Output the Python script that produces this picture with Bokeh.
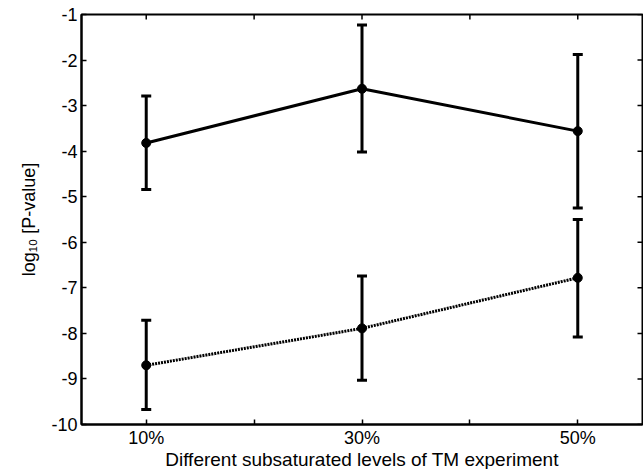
import math
from bokeh.plotting import figure
from bokeh.models import (ColumnDataSource, Whisker, TeeHead, FixedTicker, Range1d)
from bokeh.embed import file_html
from bokeh.resources import INLINE

categories = ["10%", "30%", "50%"]
solid_mean = [-3.82, -2.63, -3.56]
solid_upper = [-2.79, -1.23, -1.88]
solid_lower = [-4.84, -4.02, -5.25]
dotted_mean = [-8.70, -7.89, -6.78]
dotted_upper = [-7.71, -6.74, -5.50]
dotted_lower = [-9.67, -9.03, -8.08]
y_ticks = list(range(-10, 0))

xs = [i + 1 for i in range(len(categories))]
x_ticks = [1, 1.5, 2, 2.5, 3]
x_overrides = {x: c for x, c in zip(xs, categories)}
x_overrides.update({1.5: "", 2.5: ""})
y_overrides = {t: str(t) for t in y_ticks}

FONT = "Liberation Sans"
x0, x1, y0, y1 = 0.7, 3.3, -10, -1

p = figure(frame_width=561, frame_height=410, output_backend="svg", toolbar_location=None,
           x_range=Range1d(x0, x1), y_range=Range1d(y0, y1),
           min_border_left=81, min_border_top=14, min_border_right=1, min_border_bottom=0)
p.background_fill_color = "white"
p.border_fill_color = "white"
p.outline_line_color = "black"
p.outline_line_width = 2
p.xgrid.visible = False
p.ygrid.visible = False

for ax in (p.xaxis[0], p.yaxis[0]):
    ax.axis_line_color = "black"
    ax.axis_line_width = 2
    ax.major_tick_in = 5
    ax.major_tick_out = 0
    ax.major_tick_line_width = 1.5
    ax.minor_tick_line_color = None
    ax.major_label_text_font = FONT
    ax.major_label_text_font_size = "18px"
    ax.major_label_text_color = "black"
    ax.axis_label_text_font = FONT
    ax.axis_label_text_font_style = "normal"
    ax.axis_label_text_color = "black"

p.xaxis.ticker = FixedTicker(ticks=x_ticks)
p.xaxis.major_label_overrides = x_overrides
p.yaxis.ticker = FixedTicker(ticks=y_ticks)
p.yaxis.major_label_overrides = y_overrides
p.xaxis.major_label_standoff = 3
p.yaxis.major_label_standoff = 4
p.xaxis.axis_label = "Different subsaturated levels of TM experiment"
p.xaxis.axis_label_text_font_size = "19px"
p.xaxis.axis_label_standoff = -2
p.yaxis.axis_label = "log\u2081\u2080 [P-value]"
p.yaxis.axis_label_text_font_size = "18px"
p.yaxis.axis_label_standoff = 9

# inward ticks on the top and right edges of the box
p.ray(x=[x1] * len(y_ticks), y=y_ticks, length=5, length_units="screen", angle=math.pi,
      line_color="black", line_width=1.5)
p.ray(x=x_ticks, y=[y1] * len(x_ticks), length=5, length_units="screen", angle=-math.pi / 2,
      line_color="black", line_width=1.5)

src1 = ColumnDataSource(dict(x=xs, y=solid_mean, up=solid_upper, lo=solid_lower))
src2 = ColumnDataSource(dict(x=xs, y=dotted_mean, up=dotted_upper, lo=dotted_lower))

p.line("x", "y", source=src1, line_color="black", line_width=3)
p.line("x", "y", source=src2, line_color="black", line_width=3, line_dash="2 1")

for src in (src1, src2):
    w = Whisker(base="x", upper="up", lower="lo", source=src, line_width=3, line_color="black",
                upper_head=TeeHead(size=10, line_width=3, line_color="black"),
                lower_head=TeeHead(size=10, line_width=3, line_color="black"))
    p.add_layout(w)
    p.scatter("x", "y", source=src, size=9, color="black")

open("out.html", "w").write(file_html(p, INLINE))
